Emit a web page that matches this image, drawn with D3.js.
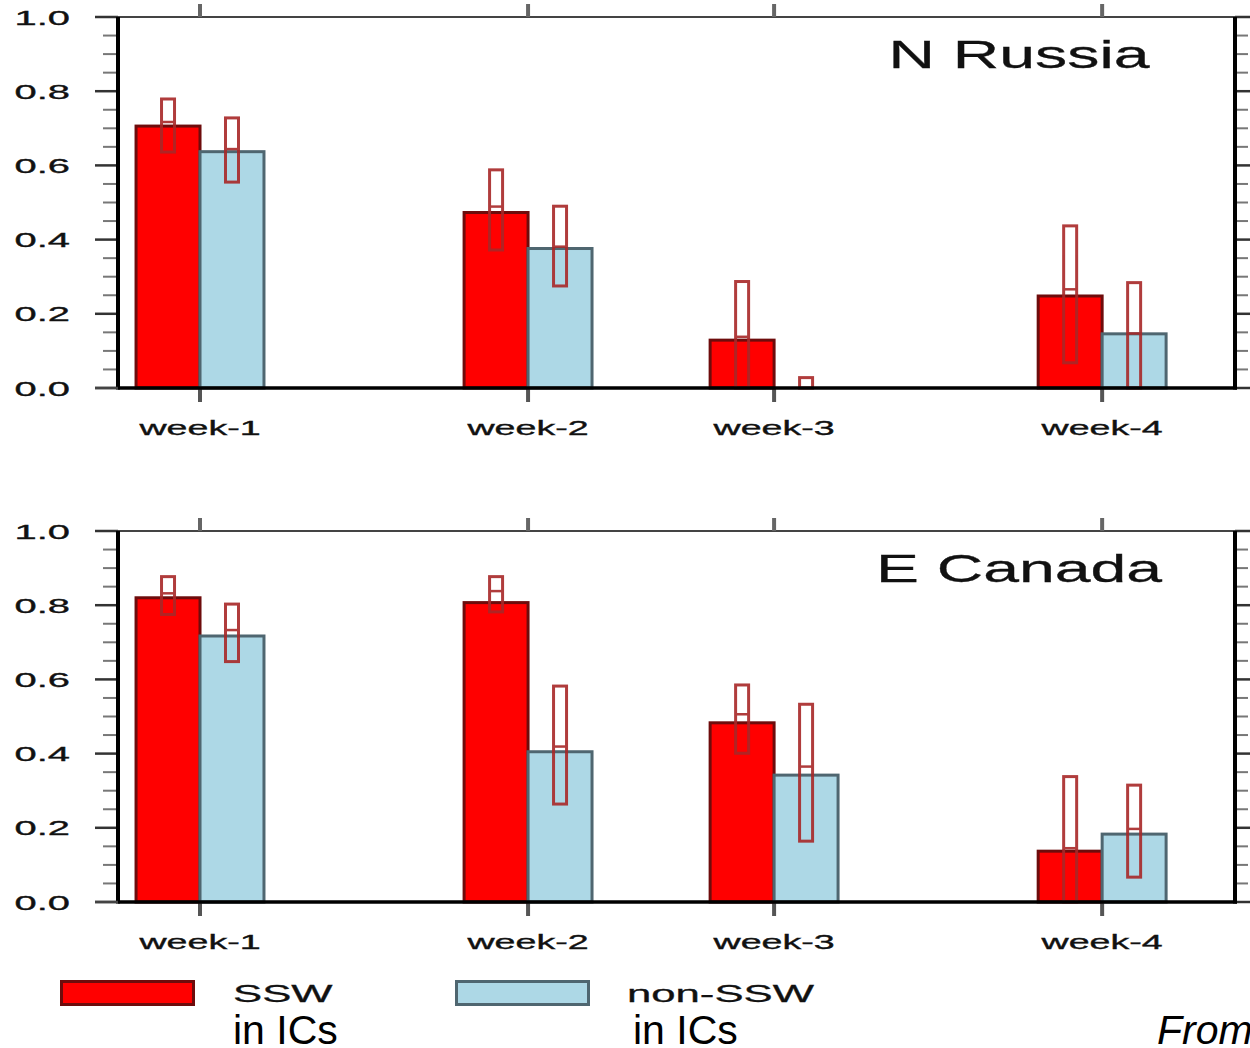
<!DOCTYPE html>
<html>
<head>
<meta charset="utf-8">
<script src="https://cdn.jsdelivr.net/npm/d3@7"></script>
<style>
  html, body { margin: 0; padding: 0; background: #fff; }
  svg { display: block; }
  text { font-family: "Liberation Sans", Arial, Helvetica, sans-serif; }
</style>
</head>
<body>
<svg id="chart" width="1250" height="1048"></svg>
<script>
// Forecast-week categories and their slots along the x axis
const weeks = ["week-1", "week-2", "week-3", "week-4"];
const weekSlots = [1, 5, 8, 12];
const yTicks = [0, 0.2, 0.4, 0.6, 0.8, 1.0];
const regions = ["N Russia", "E Canada"];
const seriesNames = ["SSW", "non-SSW"];

// N Russia: bar values and uncertainty ranges (low, high, centre line)
const rusSSW    = [0.706, 0.473, 0.129, 0.248];
const rusSSWLo  = [0.636, 0.372, 0.0,   0.068];
const rusSSWHi  = [0.779, 0.588, 0.287, 0.437];
const rusSSWMid = [0.717, 0.489, 0.138, 0.266];
const rusNon    = [0.637, 0.376, 0.0,   0.146];
const rusNonLo  = [0.555, 0.275, 0.0,   0.0];
const rusNonHi  = [0.728, 0.490, 0.028, 0.284];
const rusNonMid = [0.644, 0.381, 0.0,   0.147];

// E Canada
const canSSW    = [0.820, 0.807, 0.483, 0.137];
const canSSWLo  = [0.775, 0.782, 0.401, 0.0];
const canSSWHi  = [0.877, 0.877, 0.585, 0.338];
const canSSWMid = [0.832, 0.838, 0.506, 0.145];
const canNon    = [0.717, 0.405, 0.342, 0.183];
const canNonLo  = [0.648, 0.264, 0.164, 0.067];
const canNonHi  = [0.803, 0.582, 0.533, 0.315];
const canNonMid = [0.733, 0.419, 0.365, 0.197];

const svg = d3.select("#chart");

const left = 118, right = 1235;
const x = d3.scaleLinear().domain([0, 13.62]).range([left, right]);
const barW = x(0.78) - x(0);
const boxW = 13;

const colors = {
  ssw: "#ff0000", sswEdge: "#6e0c0c",
  non: "#add8e6", nonEdge: "#4f6670",
  box: "#a82828"
};

function stretchedText(g, str, tx, ty, size, sx, anchor, weight) {
  const t = g.append("text")
    .attr("transform", `translate(${tx},${ty}) scale(${sx},1)`)
    .attr("text-anchor", anchor || "start")
    .attr("font-size", size)
    .attr("fill", "#111")
    .text(str);
  if (weight) t.attr("stroke", "#111").attr("stroke-width", weight);
  return t;
}

function drawPanel(top, bottom, title, s) {
  const y = d3.scaleLinear().domain([0, 1]).range([bottom, top]);
  const g = svg.append("g");

  // frame: thin top line
  g.append("line").attr("x1", 95).attr("x2", right).attr("y1", y(1)).attr("y2", y(1))
    .attr("stroke", "#444").attr("stroke-width", 2);

  // minor ticks (left and right)
  const minor = d3.range(0, 1.0001, 0.05).filter(v => Math.abs(v * 5 - Math.round(v * 5)) > 1e-6);
  g.selectAll(".minL").data(minor).join("line")
    .attr("x1", 103).attr("x2", 116)
    .attr("y1", d => y(d)).attr("y2", d => y(d))
    .attr("stroke", "#777").attr("stroke-width", 2);
  g.selectAll(".minR").data(minor).join("line")
    .attr("x1", right + 2).attr("x2", right + 13)
    .attr("y1", d => y(d)).attr("y2", d => y(d))
    .attr("stroke", "#777").attr("stroke-width", 2);

  // major ticks
  g.selectAll(".majL").data(yTicks).join("line")
    .attr("x1", 95).attr("x2", left)
    .attr("y1", d => y(d)).attr("y2", d => y(d))
    .attr("stroke", "#333").attr("stroke-width", 2.5);
  g.selectAll(".majR").data(yTicks).join("line")
    .attr("x1", right).attr("x2", 1250)
    .attr("y1", d => y(d)).attr("y2", d => y(d))
    .attr("stroke", "#333").attr("stroke-width", 2.5);

  // y tick labels
  yTicks.forEach(v => {
    stretchedText(g, d3.format(".1f")(v), 70, y(v) + 7.5, 21, 1.9, "end", 0.35);
  });

  // week ticks on top and bottom
  g.selectAll(".wTop").data(weekSlots).join("line")
    .attr("x1", d => x(d)).attr("x2", d => x(d))
    .attr("y1", y(1) - 13).attr("y2", y(1))
    .attr("stroke", "#666").attr("stroke-width", 4);
  g.selectAll(".wBot").data(weekSlots).join("line")
    .attr("x1", d => x(d)).attr("x2", d => x(d))
    .attr("y1", y(0)).attr("y2", y(0) + 14)
    .attr("stroke", "#555").attr("stroke-width", 4);

  // week labels
  weeks.forEach((w, i) => {
    stretchedText(g, w, x(weekSlots[i]), y(0) + 47, 20, 1.88, "middle", 0.35);
  });

  // bars
  const rows = weeks.map((w, i) => ({ slot: weekSlots[i], i }));
  g.selectAll(".barS").data(rows).join("rect")
    .attr("x", d => x(d.slot) - barW).attr("width", barW)
    .attr("y", d => y(s.ssw[d.i])).attr("height", d => y(0) - y(s.ssw[d.i]))
    .attr("fill", colors.ssw).attr("stroke", colors.sswEdge).attr("stroke-width", 3)
    .attr("display", d => s.ssw[d.i] > 0 ? null : "none");
  g.selectAll(".barN").data(rows).join("rect")
    .attr("x", d => x(d.slot)).attr("width", barW)
    .attr("y", d => y(s.non[d.i])).attr("height", d => y(0) - y(s.non[d.i]))
    .attr("fill", colors.non).attr("stroke", colors.nonEdge).attr("stroke-width", 3)
    .attr("display", d => s.non[d.i] > 0 ? null : "none");

  // uncertainty boxes with a centre line
  function boxes(cls, offset, lo, hi, mid) {
    const bg = g.append("g").attr("opacity", 0.9);
    bg.selectAll("." + cls).data(rows).join("rect")
      .attr("x", d => x(d.slot) + offset - boxW / 2).attr("width", boxW)
      .attr("y", d => y(hi[d.i])).attr("height", d => y(lo[d.i]) - y(hi[d.i]))
      .attr("fill", "none").attr("stroke", colors.box).attr("stroke-width", 3);
    bg.selectAll("." + cls + "m").data(rows.filter(d => mid[d.i] > 0)).join("line")
      .attr("x1", d => x(d.slot) + offset - boxW / 2).attr("x2", d => x(d.slot) + offset + boxW / 2)
      .attr("y1", d => y(mid[d.i])).attr("y2", d => y(mid[d.i]))
      .attr("stroke", colors.box).attr("stroke-width", 2.5);
  }
  boxes("bxS", -barW / 2, s.sswLo, s.sswHi, s.sswMid);
  boxes("bxN", barW / 2, s.nonLo, s.nonHi, s.nonMid);

  // heavy axis lines on top of everything
  g.append("line").attr("x1", left).attr("x2", left).attr("y1", y(1)).attr("y2", y(0) + 1.5)
    .attr("stroke", "#000").attr("stroke-width", 4);
  g.append("line").attr("x1", right).attr("x2", right).attr("y1", y(1)).attr("y2", y(0) + 1.5)
    .attr("stroke", "#000").attr("stroke-width", 4);
  g.append("line").attr("x1", 95).attr("x2", left).attr("y1", y(0)).attr("y2", y(0))
    .attr("stroke", "#444").attr("stroke-width", 2.5);
  g.append("line").attr("x1", left).attr("x2", right + 2).attr("y1", y(0)).attr("y2", y(0))
    .attr("stroke", "#000").attr("stroke-width", 3.5);

  // region title
  stretchedText(g, title, 1019, top + 51, 39, 1.65, "middle", 0.3);
}

drawPanel(17, 388, regions[0], {
  ssw: rusSSW, sswLo: rusSSWLo, sswHi: rusSSWHi, sswMid: rusSSWMid,
  non: rusNon, nonLo: rusNonLo, nonHi: rusNonHi, nonMid: rusNonMid
});
drawPanel(531, 902, regions[1], {
  ssw: canSSW, sswLo: canSSWLo, sswHi: canSSWHi, sswMid: canSSWMid,
  non: canNon, nonLo: canNonLo, nonHi: canNonHi, nonMid: canNonMid
});

// legend
const lg = svg.append("g");
const legendItems = [
  { name: seriesNames[0], fill: colors.ssw, edge: colors.sswEdge, bx: 60, tx: 233, sx: 233 },
  { name: seriesNames[1], fill: colors.non, edge: colors.nonEdge, bx: 455, tx: 627, sx: 633 }
];
legendItems.forEach(it => {
  lg.append("rect").attr("x", it.bx + 1.5).attr("y", 981.5).attr("width", 132).attr("height", 23)
    .attr("fill", it.fill).attr("stroke", it.edge).attr("stroke-width", 3);
  stretchedText(lg, it.name, it.tx, 1002, 24, 1.82, "start", 0.3);
  lg.append("text").attr("x", it.sx).attr("y", 1044).attr("font-size", 41)
    .attr("fill", "#000").text("in ICs");
});

// source note, running off the right edge
svg.append("text").attr("x", 1157).attr("y", 1044).attr("font-size", 41)
  .attr("font-style", "italic").attr("fill", "#000").text("From");
</script>
</body>
</html>
